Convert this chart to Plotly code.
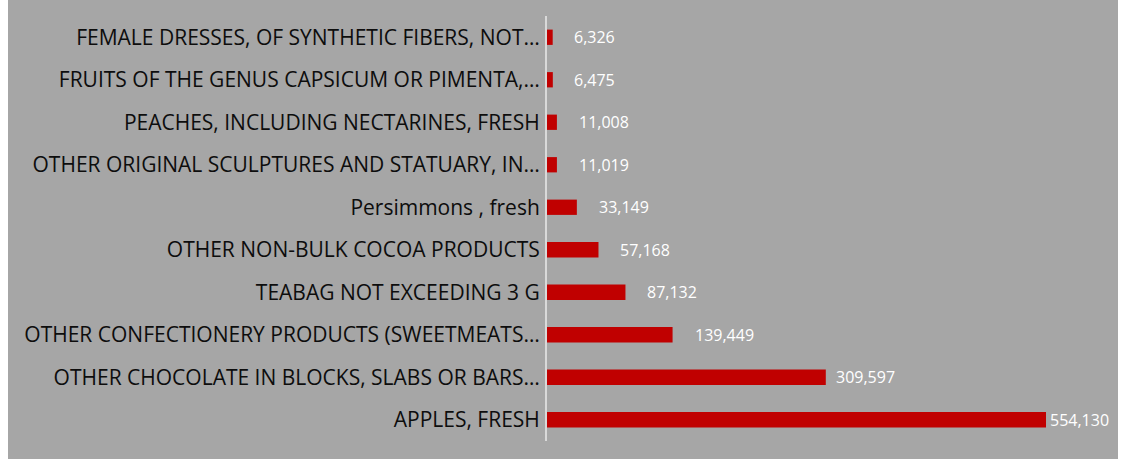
import plotly.graph_objects as go

categories = [
    "APPLES, FRESH",
    "OTHER CHOCOLATE IN BLOCKS, SLABS OR BARS…",
    "OTHER CONFECTIONERY PRODUCTS (SWEETMEATS…",
    "TEABAG NOT EXCEEDING 3 G",
    "OTHER NON-BULK COCOA PRODUCTS",
    "Persimmons , fresh",
    "OTHER ORIGINAL SCULPTURES AND STATUARY, IN…",
    "PEACHES, INCLUDING NECTARINES, FRESH",
    "FRUITS OF THE GENUS CAPSICUM OR PIMENTA,…",
    "FEMALE DRESSES, OF SYNTHETIC FIBERS, NOT…",
]
values = [554130, 309597, 139449, 87132, 57168, 33149, 11019, 11008, 6475, 6326]
label_shift = [2, 8, 20, 20, 20, 20, 20, 20, 19, 19]

BG = "#a6a6a6"
BAR = "#c00000"
FONT = "Open Sans, Liberation Sans, sans-serif"

fig = go.Figure()
fig.add_trace(go.Bar(
    y=categories, x=values, orientation="h",
    marker=dict(color=BAR, line=dict(width=0)),
    width=0.36,
    hoverinfo="skip",
))

for c, v, s in zip(categories, values, label_shift):
    fig.add_annotation(
        x=v, y=c, xref="x", yref="y",
        text=f"{v:,}", showarrow=False,
        xanchor="left", yanchor="middle", xshift=s,
        font=dict(family=FONT, size=16, color="white"),
    )

PL, PR, PT, PB = 547, 1110, 16, 441
W, H = PR - PL, PB - PT
fig.add_shape(
    type="rect", xref="paper", yref="paper",
    x0=(8 - PL) / W, x1=(1118 - PL) / W,
    y0=-(459 - PB + 5) / H, y1=1 + (PT + 5) / H,
    fillcolor=BG, line=dict(width=0), layer="below",
)

fig.update_layout(
    width=1135, height=459,
    margin=dict(l=PL, r=1135 - PR, t=PT, b=459 - PB, pad=0),
    paper_bgcolor="white",
    plot_bgcolor=BG,
    showlegend=False,
    xaxis=dict(range=[0, 625200], visible=False, fixedrange=True),
    yaxis=dict(
        categoryorder="array", categoryarray=categories,
        showline=True, linecolor="#d9d9d9", linewidth=2,
        showgrid=False, zeroline=False, fixedrange=True,
        ticks="", ticklabelstandoff=1,
        tickfont=dict(family=FONT, size=21, color="#0d0d0d"),
    ),
)

fig.write_html(
    "out.html",
    config={"displayModeBar": False},
    post_script="document.body.style.margin='0';document.body.style.padding='0';",
)
